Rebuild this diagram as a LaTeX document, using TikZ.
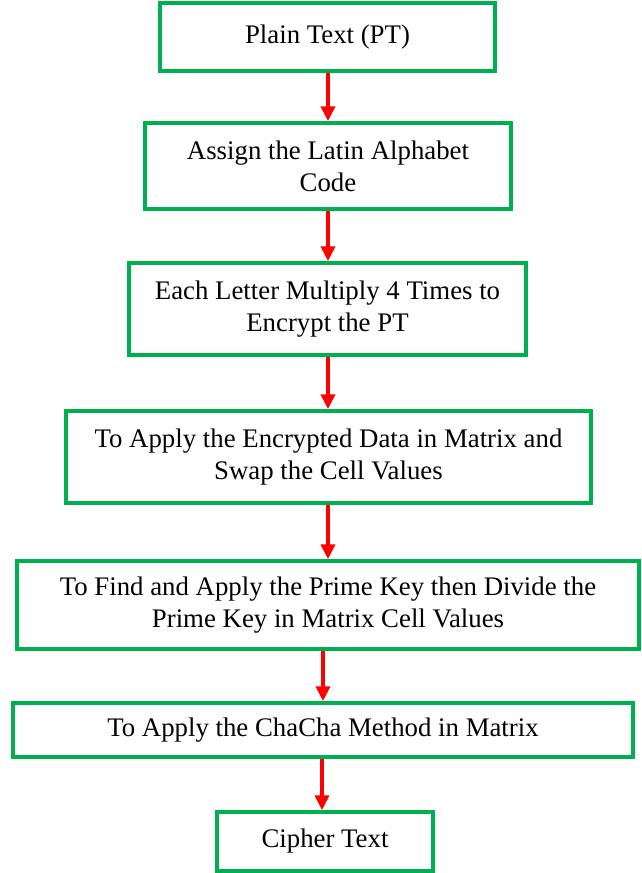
\documentclass[tikz,border=0pt]{standalone}
\usepackage{fontspec}
\setmainfont{Liberation Serif}
\usetikzlibrary{arrows.meta}
\definecolor{boxgreen}{RGB}{0,176,80}
\definecolor{arrred}{RGB}{255,0,0}
\begin{document}
\begin{tikzpicture}[x=1pt,y=-1pt,
  stepbox/.style={draw=boxgreen,line width=3.5pt,inner sep=0pt,align=center,
    font=\fontsize{26.8}{32}\selectfont},
  flowarrow/.style={draw=arrred,line width=4pt,-{Triangle[length=15pt,width=14pt]}}]
\useasboundingbox (0,0) rectangle (642,873);
\node[stepbox,minimum width=335pt,minimum height=68pt] (b1) at (327.5,37) {Plain Text (PT)};
\node[stepbox,minimum width=366pt,minimum height=86pt] (b2) at (328,166) {Assign the Latin Alphabet\\Code};
\node[stepbox,minimum width=397pt,minimum height=92pt] (b3) at (327.5,309) {Each Letter Multiply 4 Times to\\Encrypt the PT};
\node[stepbox,minimum width=525pt,minimum height=92pt] (b4) at (328.5,457) {To Apply the Encrypted Data in Matrix and\\Swap the Cell Values};
\node[stepbox,minimum width=622pt,minimum height=88pt] (b5) at (328,605) {To Find and Apply the Prime Key then Divide the\\Prime Key in Matrix Cell Values};
\node[stepbox,minimum width=620pt,minimum height=54pt] (b6) at (323,730) {To Apply the ChaCha Method in Matrix};
\node[stepbox,minimum width=216pt,minimum height=59pt] (b7) at (325,841.5) {Cipher Text};
\draw[flowarrow] (b1.south -| 328,0) -- (b2.north -| 328,0);
\draw[flowarrow] (b2.south -| 328,0) -- (b3.north -| 328,0);
\draw[flowarrow] (b3.south -| 328,0) -- (b4.north -| 328,0);
\draw[flowarrow] (b4.south -| 328,0) -- (b5.north -| 328,0);
\draw[flowarrow] (b5.south -| 323,0) -- (b6.north -| 323,0);
\draw[flowarrow] (b6.south -| 322,0) -- (b7.north -| 322,0);
\end{tikzpicture}
\end{document}
